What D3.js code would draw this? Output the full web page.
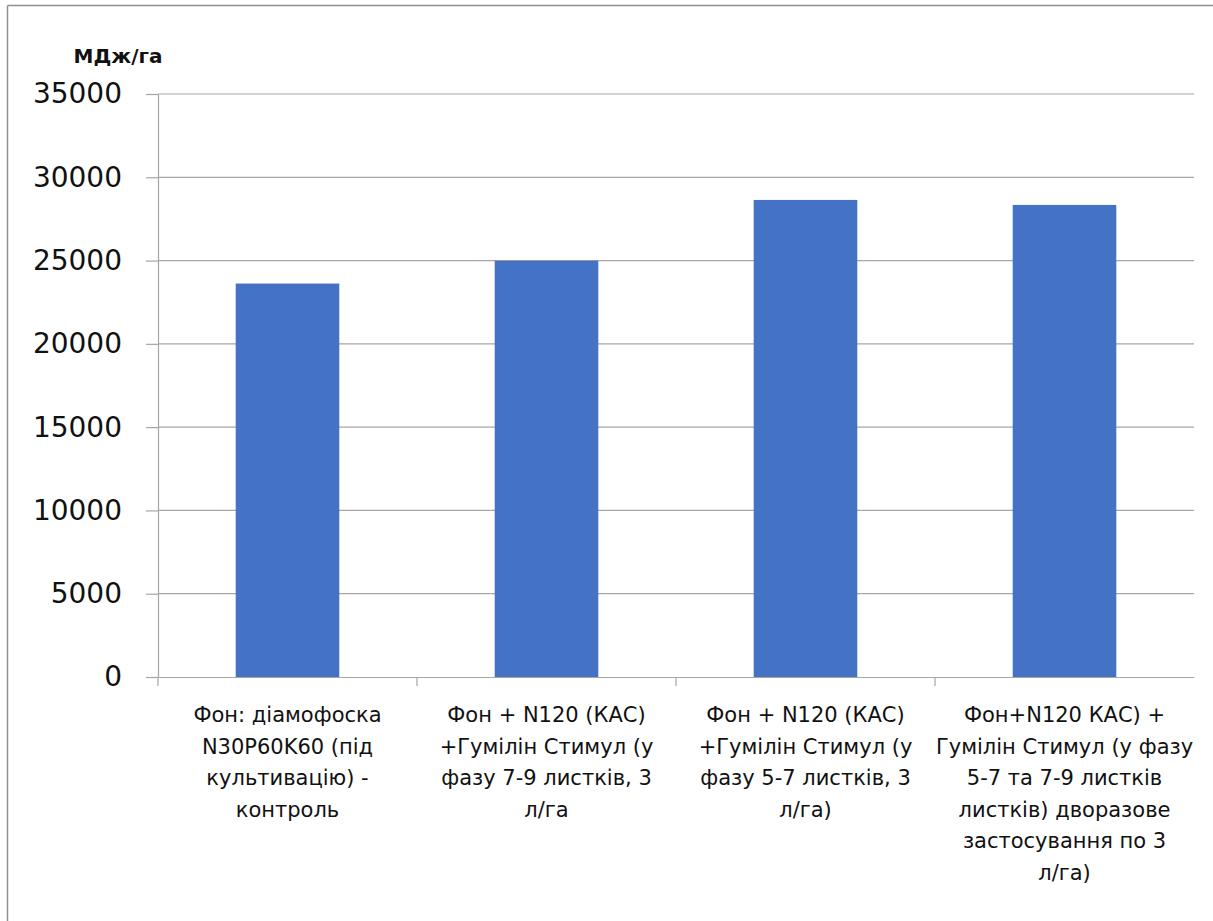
<!DOCTYPE html>
<html>
<head>
<meta charset="utf-8">
<script src="https://cdn.jsdelivr.net/npm/d3@7"></script>
<style>
  html, body { margin: 0; padding: 0; background: #fff; }
  svg { display: block; }
</style>
</head>
<body>
<svg id="chart" width="1213" height="921"></svg>
<script>
const categories = [
  ["Фон: діамофоска", "N30P60K60 (під", "культивацію) -", "контроль"],
  ["Фон + N120 (КАС)", "+Гумілін Стимул (у", "фазу 7-9 листків, 3", "л/га"],
  ["Фон + N120 (КАС)", "+Гумілін Стимул (у", "фазу 5-7 листків, 3", "л/га)"],
  ["Фон+N120 КАС) +", "Гумілін Стимул (у фазу", "5-7 та 7-9 листків", "листків) дворазове", "застосування по 3", "л/га)"]
];
const values = [23620, 24990, 28640, 28340];
const yTicks = [0, 5000, 10000, 15000, 20000, 25000, 30000, 35000];
const unitLabel = "МДж/га";

const svg = d3.select("#chart");
const plot = { left: 158, right: 1194, top: 94, bottom: 677 };

// outer frame (only top and left visible in reference)
svg.append("line").attr("x1", 7.5).attr("x2", 1213).attr("y1", 5.5).attr("y2", 5.5)
  .attr("stroke", "#8f8f8f").attr("stroke-width", 1.5);
svg.append("line").attr("x1", 7.5).attr("x2", 7.5).attr("y1", 5.5).attr("y2", 921)
  .attr("stroke", "#8f8f8f").attr("stroke-width", 1.5);

const x = d3.scaleBand().domain(d3.range(categories.length))
  .range([plot.left, plot.right]).paddingInner(0.6).paddingOuter(0.3);
const xb = d3.scaleBand().domain(d3.range(categories.length))
  .range([plot.left, plot.right]).padding(0);
const y = d3.scaleLinear().domain([0, 35000]).range([plot.bottom, plot.top]);

// gridlines + y ticks
const yAxis = d3.axisLeft(y).tickValues(yTicks).tickSize(12).tickSizeOuter(0).tickFormat(d3.format("d"));
const yg = svg.append("g").attr("transform", `translate(${plot.left},0)`).call(yAxis);
yg.select(".domain").attr("stroke", "#a6a6a6").attr("stroke-width", 1.2);
yg.selectAll(".tick line").attr("stroke", "#a6a6a6").attr("stroke-width", 1.2);
yg.selectAll(".tick text")
  .attr("x", -36)
  .attr("font-family", "DejaVu Sans").attr("font-size", 28).attr("fill", "#111");

svg.append("g").selectAll("line").data(yTicks.filter(d => d > 0)).join("line")
  .attr("x1", plot.left).attr("x2", plot.right)
  .attr("y1", d => y(d)).attr("y2", d => y(d))
  .attr("stroke", "#a6a6a6").attr("stroke-width", 1.2);

// bars
svg.append("g").selectAll("rect").data(values).join("rect")
  .attr("x", (d, i) => x(i)).attr("width", x.bandwidth())
  .attr("y", d => y(d)).attr("height", d => y(0) - y(d))
  .attr("fill", "#4472C4");

// x axis
const xAxis = d3.axisBottom(xb).tickSize(0).tickFormat("");
const xg = svg.append("g").attr("transform", `translate(0,${plot.bottom})`).call(xAxis);
xg.select(".domain").attr("stroke", "#a6a6a6").attr("stroke-width", 1.2);
const bounds = d3.range(categories.length).map(i => xb(i));
svg.append("g").selectAll("line").data(bounds).join("line")
  .attr("x1", d => d).attr("x2", d => d)
  .attr("y1", plot.bottom).attr("y2", plot.bottom + 9)
  .attr("stroke", "#a6a6a6").attr("stroke-width", 1.2);

// category labels
const lab = svg.append("g").selectAll("text").data(categories).join("text")
  .attr("text-anchor", "middle")
  .attr("font-family", "DejaVu Sans").attr("font-size", 21).attr("fill", "#111")
  .attr("transform", (d, i) => `translate(${xb(i) + xb.bandwidth() / 2},722)`);
lab.selectAll("tspan").data(d => d).join("tspan")
  .attr("x", 0).attr("y", (d, j) => j * 31.6).text(d => d);

// unit label
svg.append("text").attr("x", 118).attr("y", 63).attr("text-anchor", "middle")
  .attr("font-family", "DejaVu Sans").attr("font-weight", "bold").attr("font-size", 20)
  .attr("fill", "#111").text(unitLabel);
</script>
</body>
</html>
